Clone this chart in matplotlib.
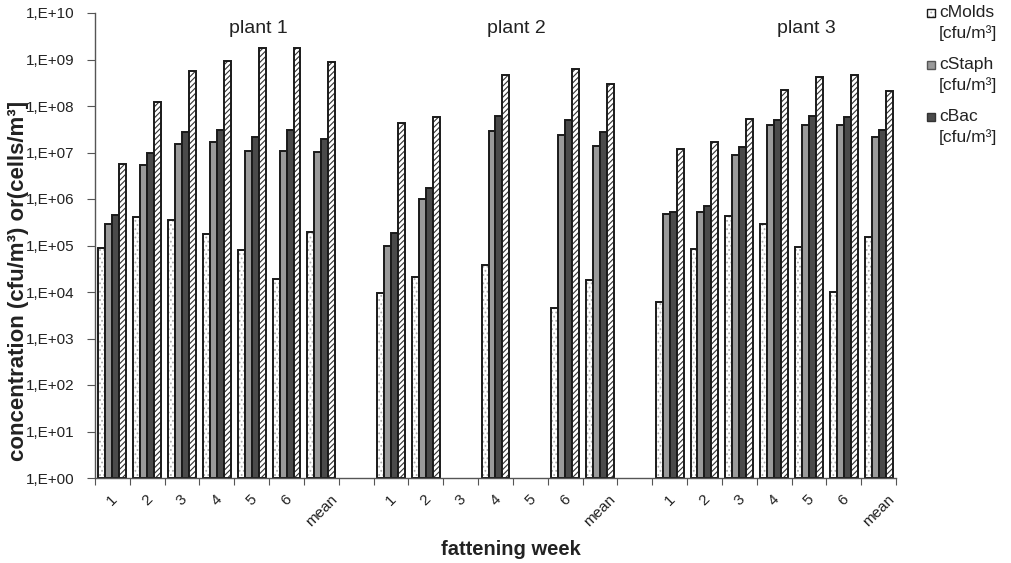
import numpy as np
import matplotlib
matplotlib.use("Agg")
import matplotlib.pyplot as plt
from matplotlib.ticker import FixedLocator, FuncFormatter, NullLocator
from matplotlib.patches import Rectangle

plt.rcParams['font.family'] = ['Liberation Sans', 'DejaVu Sans']
plt.rcParams['hatch.linewidth'] = 0.8

# x categories: three plants, weeks 1-6 plus mean, an empty slot between plants
week_labels = ["1", "2", "3", "4", "5", "6", "mean", "",
               "1", "2", "3", "4", "5", "6", "mean", "",
               "1", "2", "3", "4", "5", "6", "mean"]
plant_names = ["plant 1", "plant 2", "plant 3"]
nan = np.nan

# concentrations per category (nan = not measured / gap)
c_molds = [8.9e4, 4.1e5, 3.5e5, 1.8e5, 8.0e4, 1.9e4, 1.95e5, nan,
           9.4e3, 2.1e4, nan, 3.8e4, nan, 4.5e3, 1.8e4, nan,
           6.0e3, 8.3e4, 4.4e5, 2.9e5, 9.3e4, 9.9e3, 1.5e5]
c_staph = [2.9e5, 5.4e6, 1.5e7, 1.7e7, 1.07e7, 1.07e7, 1.0e7, nan,
           9.8e4, 1.0e6, nan, 2.9e7, nan, 2.4e7, 1.4e7, nan,
           4.8e5, 5.2e5, 8.8e6, 4.0e7, 4.0e7, 4.0e7, 2.2e7]
c_bac = [4.5e5, 9.8e6, 2.8e7, 3.0e7, 2.2e7, 3.0e7, 2.0e7, nan,
         1.85e5, 1.7e6, nan, 6.2e7, nan, 5.0e7, 2.8e7, nan,
         5.2e5, 7.0e5, 1.3e7, 5.0e7, 6.1e7, 5.8e7, 3.0e7]
c_total = [5.6e6, 1.2e8, 5.6e8, 9.3e8, 1.75e9, 1.75e9, 8.8e8, nan,
           4.3e7, 5.8e7, nan, 4.7e8, nan, 6.2e8, 3.0e8, nan,
           1.2e7, 1.7e7, 5.2e7, 2.2e8, 4.3e8, 4.6e8, 2.1e8]

series = [
    (c_molds, "white", "....", "#aaaaaa"),
    (c_staph, "#9a9a9a", "", None),
    (c_bac, "#4a4a4a", "", None),
    (c_total, "white", "//////", "#333333"),
]

W, H = 1012, 563
fig = plt.figure(figsize=(W / 100, H / 100), dpi=100)
ax = fig.add_axes([95 / W, 1 - 478 / H, 801 / W, 465 / H])

x = np.arange(len(week_labels))
w = 0.2
for i, (vals, fc, hatch, hc) in enumerate(series):
    vals = np.array(vals, dtype=float)
    ok = ~np.isnan(vals)
    bars = ax.bar(x[ok] + (i - 1.5) * w, vals[ok], width=w, bottom=1,
                  color=fc, edgecolor="#1a1a1a", linewidth=1.4, hatch=hatch)
    if hc:
        for b in bars:
            b._hatch_color = matplotlib.colors.to_rgba(hc)

ax.set_yscale("log")
ax.set_ylim(1, 1e10)
ax.set_xlim(-0.5, len(week_labels) - 0.5)
ax.yaxis.set_major_locator(FixedLocator([10.0 ** k for k in range(11)]))
ax.yaxis.set_minor_locator(NullLocator())
ax.yaxis.set_major_formatter(FuncFormatter(lambda v, p: "1,E+%02d" % round(np.log10(v))))

# boundary ticks on x, labels centred under each group
ax.set_xticks(np.arange(len(week_labels) + 1) - 0.5)
ax.set_xticklabels([])
ax.set_xticks(x, minor=True)
ax.set_xticklabels(week_labels, minor=True, rotation=45, ha="center", va="top",
                   fontsize=11, color="#222222")
ax.tick_params(axis="x", which="minor", length=0, pad=10)
ax.tick_params(axis="x", which="major", length=5, direction="out", color="#555555")
ax.tick_params(axis="y", length=6, direction="out", color="#555555", labelsize=11,
               labelcolor="#222222", pad=9)

for s in ["top", "right"]:
    ax.spines[s].set_visible(False)
for s in ["left", "bottom"]:
    ax.spines[s].set_color("#555555")
    ax.spines[s].set_linewidth(1.0)

for name, xp in zip(plant_names, [4.18, 11.59, 19.94]):
    ax.text(xp, 10 ** 9.66, name, ha="center", va="center", fontsize=14, color="#222222")

ax.set_ylabel("concentration (cfu/m³) or(cells/m³]", fontsize=16, fontweight="bold",
              color="#222222", va="center")
ax.yaxis.set_label_coords(-0.096, 0.424)
ax.set_xlabel("fattening week", fontsize=14.5, fontweight="bold", color="#222222",
              va="center")
ax.xaxis.set_label_coords(0.519, -0.153)

# legend: square aligned with the first line of each two-line entry
legend_items = [("cMolds", "white", "....", "#1a1a1a"),
                ("cStaph", "#9a9a9a", "", "#555555"),
                ("cBac", "#4a4a4a", "", "#333333")]
for k, (name, fc, hatch, ec) in enumerate(legend_items):
    ytop = 5 + k * 52
    sq = Rectangle((927 / W, 1 - (ytop + 12) / H), 8 / W, 8 / H,
                   transform=fig.transFigure, facecolor=fc, edgecolor=ec,
                   linewidth=1.0, hatch=hatch)
    if hatch:
        sq._hatch_color = matplotlib.colors.to_rgba("#aaaaaa")
    fig.add_artist(sq)
    fig.text(939 / W, 1 - ytop / H, name + "\n[cfu/m³]", ha="left", va="top",
             fontsize=12.5, color="#222222", linespacing=1.4,
             transform=fig.transFigure)

fig.savefig("out.png", dpi=100)
